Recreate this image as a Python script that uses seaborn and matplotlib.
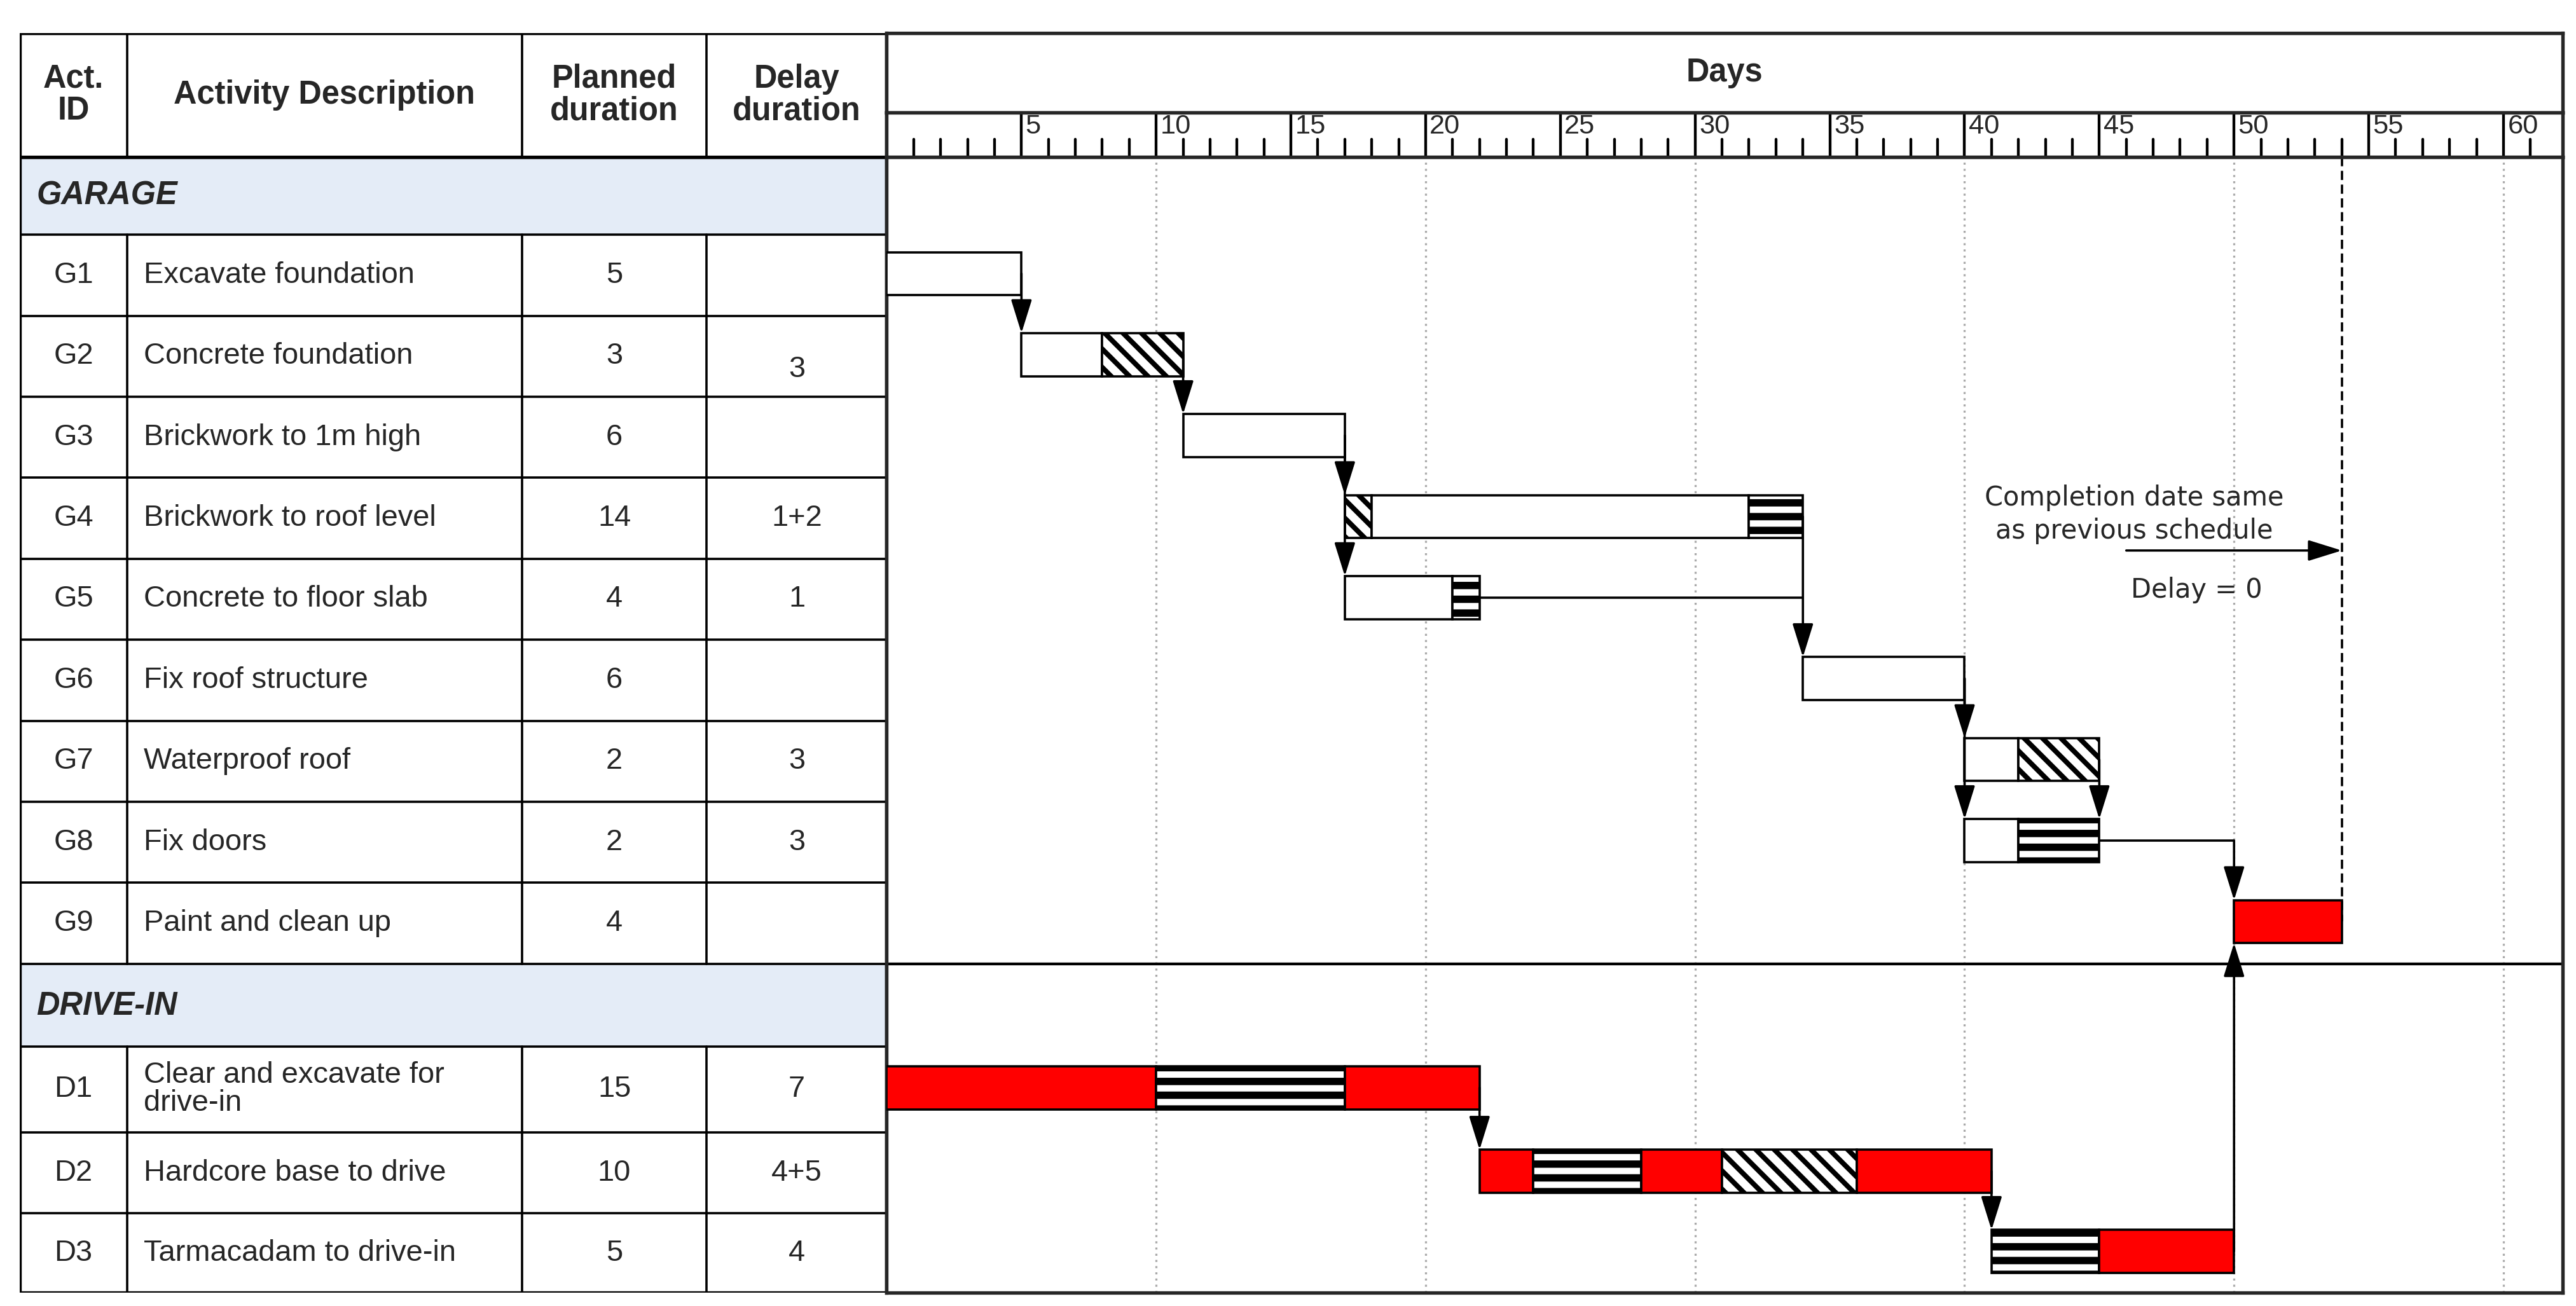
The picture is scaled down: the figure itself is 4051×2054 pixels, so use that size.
import matplotlib
matplotlib.use("Agg")
import matplotlib.pyplot as plt
import seaborn as sns

sns.set_style("white")
plt.rcParams['font.family'] = ['Liberation Sans', 'DejaVu Sans']

# ---- data ----
act_ids = ["G1", "G2", "G3", "G4", "G5", "G6", "G7", "G8", "G9", "D1", "D2", "D3"]
descriptions = ["Excavate foundation", "Concrete foundation", "Brickwork to 1m high",
                "Brickwork to roof level", "Concrete to floor slab", "Fix roof structure",
                "Waterproof roof", "Fix doors", "Paint and clean up",
                "Clear and excavate for\ndrive-in", "Hardcore base to drive", "Tarmacadam to drive-in"]
planned = ["5", "3", "6", "14", "4", "6", "2", "2", "4", "15", "10", "5"]
delays = ["", "3", "", "1+2", "1", "", "3", "3", "", "7", "4+5", "4"]
sections = ["GARAGE", "DRIVE-IN"]

# bar segments: (activity, start day, end day, kind)
segments = [
    ("G1", 0, 5, "plan"),
    ("G2", 5, 8, "plan"), ("G2", 8, 11, "diag"),
    ("G3", 11, 17, "plan"),
    ("G4", 17, 18, "diag"), ("G4", 18, 32, "plan"), ("G4", 32, 34, "stripe"),
    ("G5", 17, 21, "plan"), ("G5", 21, 22, "stripe"),
    ("G6", 34, 40, "plan"),
    ("G7", 40, 42, "plan"), ("G7", 42, 45, "diag"),
    ("G8", 40, 42, "plan"), ("G8", 42, 45, "stripe"),
    ("G9", 50, 54, "crit"),
    ("D1", 0, 10, "crit"), ("D1", 10, 17, "stripe"), ("D1", 17, 22, "crit"),
    ("D2", 22, 24, "crit"), ("D2", 24, 28, "stripe"), ("D2", 28, 31, "crit"),
    ("D2", 31, 36, "diag"), ("D2", 36, 41, "crit"),
    ("D3", 41, 45, "stripe"), ("D3", 45, 50, "crit"),
]
# links: (day, from activity, to activity)
links = [(5, "G1", "G2"), (11, "G2", "G3"), (17, "G3", "G4"), (17, "G3", "G5"),
         (34, "G4", "G6"), (40, "G6", "G7"), (40, "G6", "G8"), (45, "G7", "G8"),
         (22, "D1", "D2"), (41, "D2", "D3")]
completion_day = 54

# ---- layout (reference pixel grid 1560 x 790) ----
W, H = 1560.0, 790.0
top, hdr_bot, bottom = 20, 95, 782
col_x = [12, 77, 316, 428, 537]
right = 1552
row_bounds = {"GARAGE": (95, 142)}
for i, a in enumerate(act_ids[:9]):
    row_bounds[a] = (142 + 49 * i, 191 + 49 * i)
row_bounds["DRIVE-IN"] = (584, 633)
row_bounds["D1"] = (633, 685)
row_bounds["D2"] = (685, 734)
row_bounds["D3"] = (734, 782)
centre = {k: (v[0] + v[1]) / 2 - 1 for k, v in row_bounds.items()}
bar_h = 26

fig = plt.figure(figsize=(4051 / 260, 2054 / 260), dpi=260)

def axes_at(x0, y0, x1, y1):
    return fig.add_axes([x0 / W, 1 - y1 / H, (x1 - x0) / W, (y1 - y0) / H])

body_fs = 13
head_fs = 14

# ---- table ----
tab = axes_at(col_x[0], top, col_x[-1], bottom)
tab.set_xlim(col_x[0], col_x[-1])
tab.set_ylim(bottom, top)
tab.axis("off")
for s in sections:
    y0, y1 = row_bounds[s]
    tab.fill_between([col_x[0], col_x[-1]], y0, y1, color="#E4ECF7", lw=0)
    tab.text(col_x[0] + 10, (y0 + y1) / 2, s, fontsize=head_fs, weight="bold", style="italic",
             va="center", ha="left")
    tab.plot([col_x[0], col_x[-1]], [y1, y1], color="black", lw=1)
lw = 1.0
tab.plot([col_x[0], col_x[-1]], [top, top], color="black", lw=1.5)
tab.plot([col_x[0], col_x[-1]], [bottom, bottom], color="black", lw=1.5)
tab.plot([col_x[0], col_x[-1]], [hdr_bot, hdr_bot], color="black", lw=1.5)
tab.plot([col_x[0], col_x[0]], [top, bottom], color="black", lw=1.5)
tab.plot([col_x[-1], col_x[-1]], [top, bottom], color="black", lw=1.5)
for x in col_x[1:-1]:
    tab.plot([x, x], [top, hdr_bot], color="black", lw=lw)
    for a in act_ids:
        y0, y1 = row_bounds[a]
        tab.plot([x, x], [y0, y1], color="black", lw=lw)
headers = ["Act.\nID", "Activity Description", "Planned\nduration", "Delay\nduration"]
for i, h in enumerate(headers):
    tab.text((col_x[i] + col_x[i + 1]) / 2, (top + hdr_bot) / 2, h, fontsize=head_fs,
             weight="bold", ha="center", va="center", linespacing=1.05)
for i, a in enumerate(act_ids):
    y0, y1 = row_bounds[a]
    ym = (y0 + y1) / 2
    tab.plot([col_x[0], col_x[-1]], [y1, y1], color="black", lw=lw)
    tab.text((col_x[0] + col_x[1]) / 2, ym, a, fontsize=body_fs, ha="center", va="center")
    tab.text(col_x[1] + 10, ym, descriptions[i], fontsize=body_fs, ha="left", va="center",
             linespacing=1.0)
    tab.text((col_x[2] + col_x[3]) / 2, ym, planned[i], fontsize=body_fs, ha="center", va="center")
    dy = 8 if a == "G2" else 0
    tab.text((col_x[3] + col_x[4]) / 2, ym + dy, delays[i], fontsize=body_fs, ha="center", va="center")

# ---- header: Days + ruler ----
day_max = 62.2
hd = axes_at(col_x[-1], top, right, 68)
hd.set_xlim(0, day_max)
hd.set_ylim(0, 1)
hd.set_xticks([]); hd.set_yticks([])
for sp in hd.spines.values():
    sp.set_linewidth(1.5)
hd.text(day_max / 2, 0.5, "Days", fontsize=head_fs, weight="bold", ha="center", va="center")

ru = axes_at(col_x[-1], 68, right, hdr_bot)
ru.set_xlim(0, day_max)
ru.set_ylim(0, 1)
ru.set_xticks([]); ru.set_yticks([])
for sp in ru.spines.values():
    sp.set_linewidth(1.5)
for d in range(0, 62):
    if d % 5 == 0 and d > 0:
        ru.plot([d, d], [0, 1], color="black", lw=1.2)
        ru.text(d + 0.15, 0.97, str(d), fontsize=12, ha="left", va="top")
    else:
        ru.plot([d, d], [0, 0.4], color="black", lw=1.2)

# ---- gantt ----
ax = axes_at(col_x[-1], hdr_bot, right, bottom)
ax.set_xlim(0, day_max)
ax.set_ylim(bottom, hdr_bot)
ax.set_xticks([]); ax.set_yticks([])
for sp in ax.spines.values():
    sp.set_linewidth(1.5)
for d in range(10, 61, 10):
    ax.axvline(d, color="#AAAAAA", lw=0.9, ls=(0, (1, 2)), zorder=0)
ax.axhline(row_bounds["G9"][1], color="black", lw=1.2)

styles = {
    "plan": dict(color="white", hatch=None, hl=1.0),
    "crit": dict(color="#FF0000", hatch=None, hl=1.0),
    "diag": dict(color="white", hatch="\\\\\\", hl=2.2),
    "stripe": dict(color="white", hatch="--", hl=3.2),
}
for act, s, e, kind in segments:
    st = styles[kind]
    plt.rcParams["hatch.linewidth"] = st["hl"]
    ax.barh(centre[act], e - s, left=s, height=bar_h, color=st["color"],
            edgecolor="black", linewidth=1.0, hatch=st["hatch"], zorder=3)

arrow = dict(arrowstyle="-|>,head_length=0.45,head_width=0.14", color="black",
             lw=1.0, mutation_scale=28, shrinkA=0, shrinkB=0)
for d, a, b in links:
    ax.annotate("", xy=(d, centre[b] - bar_h / 2), xytext=(d, centre[a]),
                arrowprops=arrow, zorder=4)
# G5 float link into G6 chain
ax.plot([22, 34], [centre["G5"], centre["G5"]], color="black", lw=1.0, zorder=2)
# G8 -> G9 and D3 -> G9
ax.plot([45, 50], [centre["G8"], centre["G8"]], color="black", lw=1.0, zorder=2)
ax.annotate("", xy=(50, centre["G9"] - bar_h / 2), xytext=(50, centre["G8"]),
            arrowprops=arrow, zorder=4)
ax.annotate("", xy=(50, centre["G9"] + bar_h / 2), xytext=(50, centre["D3"]),
            arrowprops=arrow, zorder=4)

# completion date
ax.plot([completion_day, completion_day], [hdr_bot, centre["G9"]], color="black",
        lw=1.0, ls=(0, (4, 2)), zorder=2)
ax.text(46.3, 311, "Completion date same\nas previous schedule", fontsize=11.5,
        ha="center", va="center", linespacing=1.3, family="DejaVu Sans")
ax.annotate("", xy=(completion_day, 333), xytext=(46.0, 333), arrowprops=arrow)
ax.text(48.6, 357, "Delay = 0", fontsize=11.5, ha="center", va="center", family="DejaVu Sans")

fig.savefig("out.png", dpi=260)
